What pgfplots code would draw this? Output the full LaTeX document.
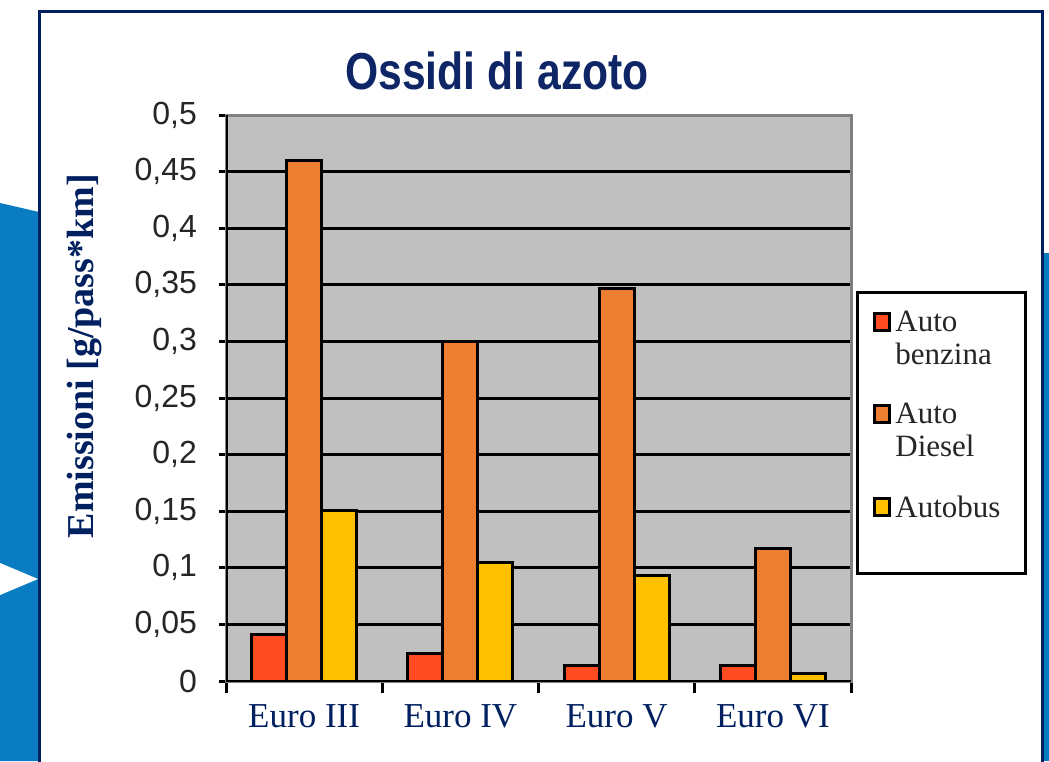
\documentclass[border=0pt]{standalone}
\usepackage{fontspec}
\setmainfont{Liberation Serif}
\newfontfamily\arial{Liberation Sans}
\newfontfamily\titlefont[FakeStretch=0.82]{Liberation Sans}
\usepackage{pgfplots}
\pgfplotsset{compat=1.18}
\definecolor{navy}{HTML}{002060}
\definecolor{bgblue}{HTML}{0A7CC1}
\definecolor{titlec}{HTML}{0F2666}
\definecolor{benz}{HTML}{FF4B22}
\definecolor{dies}{HTML}{ED7D31}
\definecolor{bus}{HTML}{FFC000}
\definecolor{plotbg}{HTML}{C0C0C0}
\definecolor{bordgray}{HTML}{808080}
\begin{document}
\begin{tikzpicture}[x=0.5pt,y=0.5pt]
\useasboundingbox (0,0) rectangle (1049,761);
\fill[white] (0,0) rectangle (1049,761);
\fill[bgblue] (0,558) -- (39,549) -- (39,0) -- (0,0) -- cycle;
\fill[white] (0,198) -- (38,182) -- (0,166) -- cycle;
\fill[bgblue] (1044,508) rectangle (1049,0);
\filldraw[fill=white, draw=navy, line width=1.5pt] (39.5,-10) rectangle (1042.5,749.5);
\begin{axis}[
  at={(113pt,40pt)}, anchor=south west,
  width=312.5pt, height=283pt, scale only axis,
  xmin=-0.5, xmax=3.5, ymin=0, ymax=0.5,
  ybar=0pt, bar width=0.224,
  xtick={-0.5,0.5,1.5,2.5,3.5}, x tick label as interval,
  xticklabels={Euro III,Euro IV,Euro V,Euro VI},
  ytick={0,0.05,0.1,0.15,0.2,0.25,0.3,0.35,0.4,0.45,0.5},
  scaled y ticks=false,
  ymajorgrids, major grid style={black, line width=1.5pt},
  axis background/.style={fill=plotbg},
  axis line style={draw=bordgray, line width=1.5pt},
  tick align=outside, xtick pos=bottom, ytick pos=left,
  tick style={black, line width=1.5pt},
  major tick length=3.5pt,
  xtick style={/pgfplots/major tick length=6pt},
  yticklabel={\pgfmathprintnumber[fixed, precision=2, use comma, assume math mode=true]{\tick}},
  yticklabel style={font=\arial\fontsize{16}{18}\selectfont, text=black!85, xshift=-7.5pt},
  xticklabel style={font=\fontsize{17.5}{19}\selectfont, text=navy, yshift=-5pt},
  title={Ossidi di azoto},
  title style={font=\titlefont\bfseries\fontsize{26}{28}\selectfont, text=titlec, at={(axis description cs:0.4336,1.0565)}, anchor=center},
  ylabel={Emissioni [g/pass*km]},
  ylabel style={font=\bfseries\fontsize{19}{21}\selectfont, text=navy, at={(axis description cs:-0.2256,0.574)}, anchor=center},
  legend style={draw=none, fill=none, at={(axis description cs:1.0352,0.662)}, anchor=north west,
    cells={anchor=west, align=left, font=\fontsize{15.5}{16.5}\selectfont, text=black!85}, row sep=14pt, inner sep=0pt},
  legend image code/.code={\draw[#1, line width=1.5pt] (0pt,-4pt) rectangle (7.5pt,4.5pt);},
]
\addplot[fill=benz, draw=black, line width=1.5pt, legend image post style={yshift=8.25pt}] coordinates {(0,0.041) (1,0.024) (2,0.014) (3,0.014)};
\addlegendentry{Auto\\benzina}
\addplot[fill=dies, draw=black, line width=1.5pt, legend image post style={yshift=8.25pt}] coordinates {(0,0.460) (1,0.300) (2,0.347) (3,0.117)};
\addlegendentry{Auto\\Diesel}
\addplot[fill=bus, draw=black, line width=1.5pt] coordinates {(0,0.151) (1,0.105) (2,0.093) (3,0.007)};
\addlegendentry{Autobus}
\draw[bordgray, line width=1.5pt] (rel axis cs:0,1) -- (rel axis cs:1,1) -- (rel axis cs:1,0);
\draw[black, line width=1.5pt] (rel axis cs:0,1) -- (rel axis cs:0,0) -- (rel axis cs:1,0);
\end{axis}
\draw[black, line width=1.5pt] (857,188) rectangle (1025,468);
\end{tikzpicture}
\end{document}
